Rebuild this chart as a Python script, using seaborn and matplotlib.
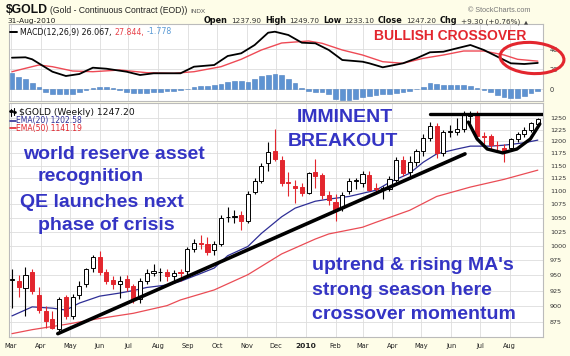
import numpy as np
import pandas as pd
import matplotlib
matplotlib.use("Agg")
import matplotlib.pyplot as plt
from matplotlib.patches import Ellipse
from matplotlib.lines import Line2D
from matplotlib.ticker import FixedLocator, FixedFormatter, NullLocator
import seaborn as sns

# ---------------- data ----------------
start_date = "2009-03-02"
opens = [942, 941, 929, 956, 918, 893, 880, 865, 915, 885, 918, 935, 962, 980, 955, 942, 935, 943, 932, 911,
         940, 953, 955, 955, 948, 955, 957, 995, 1005, 1004, 992, 1003, 1051, 1052, 1055, 1045, 1098, 1120, 1155, 1180,
         1162, 1117, 1110, 1109, 1097, 1137, 1132, 1093, 1080, 1068, 1100, 1120, 1115, 1132, 1106, 1104, 1105, 1122, 1162, 1138,
         1158, 1180, 1208, 1233, 1176, 1219, 1219, 1227, 1255, 1259, 1212, 1212, 1193, 1186, 1186, 1204, 1215, 1225, 1237.9]
highs = [960, 950, 963, 960, 930, 900, 893, 915, 918, 920, 940, 962, 985, 991, 960, 948, 948, 950, 935, 945,
         960, 968, 962, 960, 958, 960, 998, 1012, 1020, 1015, 1008, 1055, 1070, 1065, 1062, 1100, 1125, 1155, 1198, 1226,
         1170, 1137, 1122, 1115, 1138, 1163, 1135, 1100, 1095, 1098, 1125, 1126, 1140, 1140, 1115, 1110, 1130, 1168, 1170, 1170,
         1185, 1215, 1241, 1240, 1225, 1235, 1250, 1265, 1265, 1265, 1220, 1215, 1200, 1195, 1208, 1220, 1230, 1241, 1249.7]
lows = [897, 915, 885, 920, 890, 866, 865, 862, 880, 880, 912, 930, 955, 950, 935, 928, 913, 925, 905, 905,
        935, 948, 940, 940, 940, 940, 950, 990, 995, 985, 985, 1000, 1043, 1040, 1028, 1040, 1095, 1115, 1140, 1160,
        1110, 1090, 1078, 1090, 1095, 1107, 1085, 1073, 1045, 1062, 1095, 1105, 1108, 1100, 1095, 1085, 1100, 1118, 1130, 1130,
        1150, 1170, 1200, 1165, 1170, 1210, 1213, 1220, 1240, 1205, 1195, 1185, 1180, 1157, 1180, 1198, 1210, 1220, 1233.1]
closes = [943, 931, 951, 925, 894, 877, 867, 912, 885, 915, 932, 960, 980, 955, 940, 935, 941, 930, 912, 940,
          953, 957, 956, 948, 953, 954, 995, 1005, 1004, 990, 1003, 1050, 1052, 1053, 1045, 1095, 1120, 1150, 1178, 1164,
          1115, 1115, 1106, 1097, 1136, 1130, 1093, 1083, 1065, 1093, 1120, 1121, 1134, 1102, 1105, 1106, 1124, 1162, 1136, 1158,
          1180, 1208, 1232, 1175, 1219, 1222, 1227, 1259, 1259, 1212, 1210, 1192, 1192, 1180, 1204, 1215, 1225, 1239, 1247.2]

ema20_week = [0, 3, 6, 8, 10, 13, 16, 18, 20, 23, 25, 28, 30, 32, 35, 37, 40, 42, 45, 47, 50, 54, 56, 59, 61, 63, 66, 68, 71, 73, 76, 78]
ema20_val = [885, 899, 897, 894, 905, 916, 921, 925, 930, 934, 940, 953, 962, 983, 999, 1022, 1052, 1068, 1081, 1085,
             1090, 1102, 1117, 1135, 1157, 1174, 1184, 1190, 1190, 1192, 1197, 1202.58]
ema50_week = [0, 3, 8, 13, 18, 23, 25, 30, 35, 40, 45, 47, 52, 54, 59, 63, 68, 73, 78]
ema50_val = [858, 864, 872, 881, 889, 901, 910, 926, 951, 986, 1012, 1021, 1033, 1042, 1064, 1090, 1108, 1123, 1141.19]

macd_week = [0, 2, 3, 6, 8, 10, 12, 14, 17, 19, 21, 25, 27, 30, 32, 34, 36, 38, 39, 41,
             43, 45, 47, 49, 52, 53, 55, 58, 60, 62, 64, 66, 68, 70, 73, 74, 76, 78]
macd_val = [31.3, 31.7, 29.7, 17.3, 13, 15, 21.3, 20.3, 17.3, 14, 15.7, 15.7, 22.3, 24, 33, 35.7, 44, 56.3, 57.3, 54,
            46.3, 45.7, 39, 29, 27.3, 25.7, 21.7, 25.7, 30.7, 36.7, 37.3, 40.7, 44, 39, 29, 25.7, 25, 26.067]
signal_week = [0, 2, 4, 6, 9, 12, 16, 20, 24, 27, 31, 34, 37, 40, 44, 46, 49, 52, 55, 58, 61, 64, 67, 70, 73, 75, 78]
signal_val = [17.3, 20.7, 24, 22.3, 18, 17.3, 19, 16.3, 15.7, 17.3, 22.3, 29.7, 39, 46, 48, 45.7, 39, 34, 27.3, 25.7,
              30.7, 34, 38, 38, 34, 29.7, 27.844]
hist_val = [16, 12, 10, 6, 2, -3, -5, -5, -5, -5,
            -3, -1, 1, 2, 2, 1, -1, -2.5, -3.5, -4,
            -3.5, -3, -2.5, -2, -1.5, -1, 0.5, 2, 3, 3,
            4, 5, 7, 8, 8, 7, 10, 13, 14, 15,
            14, 10, 6, 1, -2, -3, -3, -5, -10, -11,
            -11, -10, -8, -7, -6, -5, -5, -4, -3, -2,
            0.5, 2, 6, 5, 4, 4, 4, 4, 3, 1,
            -0.5, -3, -5.5, -8, -9, -8.5, -6.5, -4, -1.778]

trend_week = [6.8, 67.2]
trend_price = [858, 1174]
resist_week = [62, 78.9]
resist_price = [1259, 1259]
cup_week = [67.7, 69.0, 70.5, 72.8, 74.9, 76.9, 78.3]
cup_price = [1241, 1205, 1184, 1176, 1184, 1205, 1237]

price_ticks = [875, 900, 925, 950, 975, 1000, 1025, 1050, 1075, 1100, 1125, 1150, 1175, 1200, 1225, 1250]
macd_ticks = [0, 20, 40]
month_labels = ["Mar", "Apr", "May", "Jun", "Jul", "Aug", "Sep", "Oct", "Nov", "Dec",
                "2010", "Feb", "Mar", "Apr", "May", "Jun", "Jul", "Aug"]

# ---------------- helpers ----------------
W, H = 570, 356
t0 = pd.Timestamp(start_date)
def wk(v):
    return t0 + pd.to_timedelta(np.asarray(v, dtype=float) * 7, unit="D")

n = len(closes)
dates = wk(np.arange(n))
O, Hh, L, C = map(np.asarray, (opens, highs, lows, closes))

RED = "#E3262E"
BLUE_TXT = "#3434C4"
NAVY = "#2E2E96"

sns.set_theme(style="white")
plt.rcParams["font.family"] = ["DejaVu Sans"]

fig = plt.figure(figsize=(W / 100, H / 100), dpi=100, facecolor="#FEFDE8")
renderer = fig.canvas.get_renderer()

def fx(x):
    return x / W
def fy(y):
    return 1 - y / H

L0, R0 = 8.5, 543
axp = fig.add_axes([fx(L0), fy(337), (R0 - L0) / W, (337 - 103) / H])
axm = fig.add_axes([fx(L0), fy(101), (R0 - L0) / W, (101 - 24) / H], sharex=axp)

for ax in (axp, axm):
    ax.set_facecolor("white")
    for s in ax.spines.values():
        s.set_color("#BBBBBB")
        s.set_linewidth(0.8)

# ---------------- price panel ----------------
up = C >= O
blo = np.minimum(O, C)
bh = np.maximum(np.abs(C - O), 1.0)
wick_cols = np.where(up, "black", RED)
axp.vlines(dates, L, Hh, colors=wick_cols, lw=0.8, zorder=3)
axp.bar(dates[up], bh[up], bottom=blo[up], width=4.3, facecolor="white",
        edgecolor="black", lw=0.7, zorder=4)
axp.bar(dates[~up], bh[~up], bottom=blo[~up], width=4.3, facecolor=RED,
        edgecolor=RED, lw=0.7, zorder=4)

sns.lineplot(x=wk(ema20_week), y=ema20_val, ax=axp, color=NAVY, lw=0.9, zorder=2)
sns.lineplot(x=wk(ema50_week), y=ema50_val, ax=axp, color="#EA4C55", lw=0.9, zorder=2)
sns.lineplot(x=wk(trend_week), y=trend_price, ax=axp, color="black", lw=2.6, zorder=5)
sns.lineplot(x=wk(resist_week), y=resist_price, ax=axp, color="black", lw=2.4, zorder=5)
axp.plot(wk(cup_week), cup_price, color="black", lw=2.4, zorder=5, solid_capstyle="round")

axp.set_yscale("log")
axp.set_ylim(853, 1283)
axp.yaxis.set_major_locator(FixedLocator(price_ticks))
axp.yaxis.set_major_formatter(FixedFormatter([str(t) for t in price_ticks]))
axp.yaxis.set_minor_locator(NullLocator())
axp.yaxis.tick_right()
axp.tick_params(axis="y", length=0, pad=5, labelsize=4.6, labelcolor="#333333")

months = pd.date_range("2009-03-01", "2010-08-01", freq="MS")
axp.set_xticks(months)
axp.set_xticklabels(month_labels)
axp.tick_params(axis="x", length=0, pad=4, labelsize=4.8, labelcolor="#222222")
for lab in axp.get_xticklabels():
    if lab.get_text() == "2010":
        lab.set_fontweight("bold")
        lab.set_fontsize(5.4)
axp.set_xlim(t0 - pd.Timedelta(days=3.6), t0 + pd.Timedelta(days=551.4))
axp.grid(True, color="#DDDDDD", lw=0.6)
axp.set_xlabel("")
axp.set_ylabel("")

# ---------------- MACD panel ----------------
axm.bar(dates, hist_val, width=4.9, color="#5E93D2", edgecolor="#4C80C0", lw=0.4, zorder=3)
sns.lineplot(x=wk(signal_week), y=signal_val, ax=axm, color="#EE4A55", lw=1.0, zorder=4)
sns.lineplot(x=wk(macd_week), y=macd_val, ax=axm, color="black", lw=1.3, zorder=5)
axm.set_ylim(-12, 65)
axm.set_yticks(macd_ticks)
axm.yaxis.tick_right()
axm.tick_params(axis="y", length=0, pad=5, labelsize=4.8, labelcolor="#333333")
axm.tick_params(axis="x", length=0, labelbottom=False)
axm.grid(True, color="#DDDDDD", lw=0.6)
axm.set_xlabel("")
axm.set_ylabel("")

# ---------------- texts ----------------
def ftxt(x, y, s, **kw):
    kw.setdefault("va", "baseline")
    return fig.text(fx(x), fy(y), s, **kw)

def run(x, y, pieces, gap=2.5):
    """Lay text pieces one after another on a baseline, left to right."""
    for s, kw in pieces:
        t = ftxt(x, y, s, **kw)
        x = t.get_window_extent(renderer).x1 + gap

run(6, 13.3, [("$GOLD", dict(family="Liberation Sans", weight="bold", size=8.8, color="#111111")),
              ("(Gold - Continuous Contract (EOD))", dict(family="Liberation Sans", size=6.2, color="#222222")),
              ("INDX", dict(family="Liberation Sans", size=4.6, color="#555555"))], gap=2.5)
ftxt(468, 12.5, "\u00a9 StockCharts.com", family="Liberation Sans", size=5.2, color="#777777")
ftxt(7, 23.3, "31-Aug-2010", size=5.4, color="#222222")

B = dict(size=5.9, weight="bold", color="#111111")
V = dict(size=5.2, color="#333333")
run(204, 23.3, [("Open", B), ("1237.90", V), ("High", B), ("1249.70", V), ("Low", B), ("1233.10", V),
                ("Close", B), ("1247.20", V), ("Chg", B), ("+9.30 (+0.76%)", V), ("\u25b2", dict(size=3.8, color="#444444"))],
    gap=3.5)

# MACD legend
fig.add_artist(Line2D([fx(10), fx(17)], [fy(31.5), fy(31.5)], color="black", lw=1.4))
run(20, 34.5, [("MACD(12,26,9) 26.067,", dict(size=5.7, color="#111111")),
               ("27.844,", dict(size=5.7, color="#E8424A")),
               ("-1.778", dict(size=5.7, color="#5B9BD5"))], gap=2.5)

# price legend
fig.add_artist(Line2D([fx(11), fx(11)], [fy(108.5), fy(115.5)], color="black", lw=0.8))
fig.add_artist(Line2D([fx(14), fx(14)], [fy(108), fy(115)], color="black", lw=0.8))
fig.add_artist(Line2D([fx(10.5), fx(11.5)], [fy(111), fy(111)], color="black", lw=2.0))
fig.add_artist(Line2D([fx(13.5), fx(14.5)], [fy(111.5), fy(111.5)], color="black", lw=2.0))
ftxt(19, 114.8, "$GOLD (Weekly) 1247.20", size=6.6, color="#111111")
fig.add_artist(Line2D([fx(10), fx(16)], [fy(120.8), fy(120.8)], color=NAVY, lw=1.2))
ftxt(16.5, 123, "EMA(20) 1202.58", size=5.5, color=NAVY)
fig.add_artist(Line2D([fx(10), fx(16)], [fy(128.3), fy(128.3)], color=RED, lw=1.2))
ftxt(16.5, 130.6, "EMA(50) 1141.19", size=5.5, color=RED)

# annotations
ann = dict(family="Liberation Sans", weight="bold", size=14, color=BLUE_TXT)
ftxt(23, 159, "world reserve asset", **ann)
ftxt(38, 181, "recognition", **ann)
ftxt(20, 207, "QE launches next", **ann)
ftxt(38, 230, "phase of crisis", **ann)
ftxt(344.5, 122.5, "IMMINENT", ha="center", **ann)
ftxt(342.5, 146.5, "BREAKOUT", ha="center", **ann)
ftxt(312, 270.5, "uptrend & rising MA's", **ann)
ftxt(312, 295, "strong season here", **ann)
ftxt(312, 319, "crossover momentum", **ann)
ftxt(374, 39.5, "BULLISH CROSSOVER", family="Liberation Sans", weight="bold", size=10, color=RED)

ell = Ellipse(xy=(532 / 100, (H - 58) / 100), width=0.64, height=0.31, angle=-4,
              transform=fig.dpi_scale_trans, fill=False, edgecolor=RED, lw=2.2, clip_on=False)
fig.add_artist(ell)

fig.savefig("out.png", dpi=100, facecolor=fig.get_facecolor())
